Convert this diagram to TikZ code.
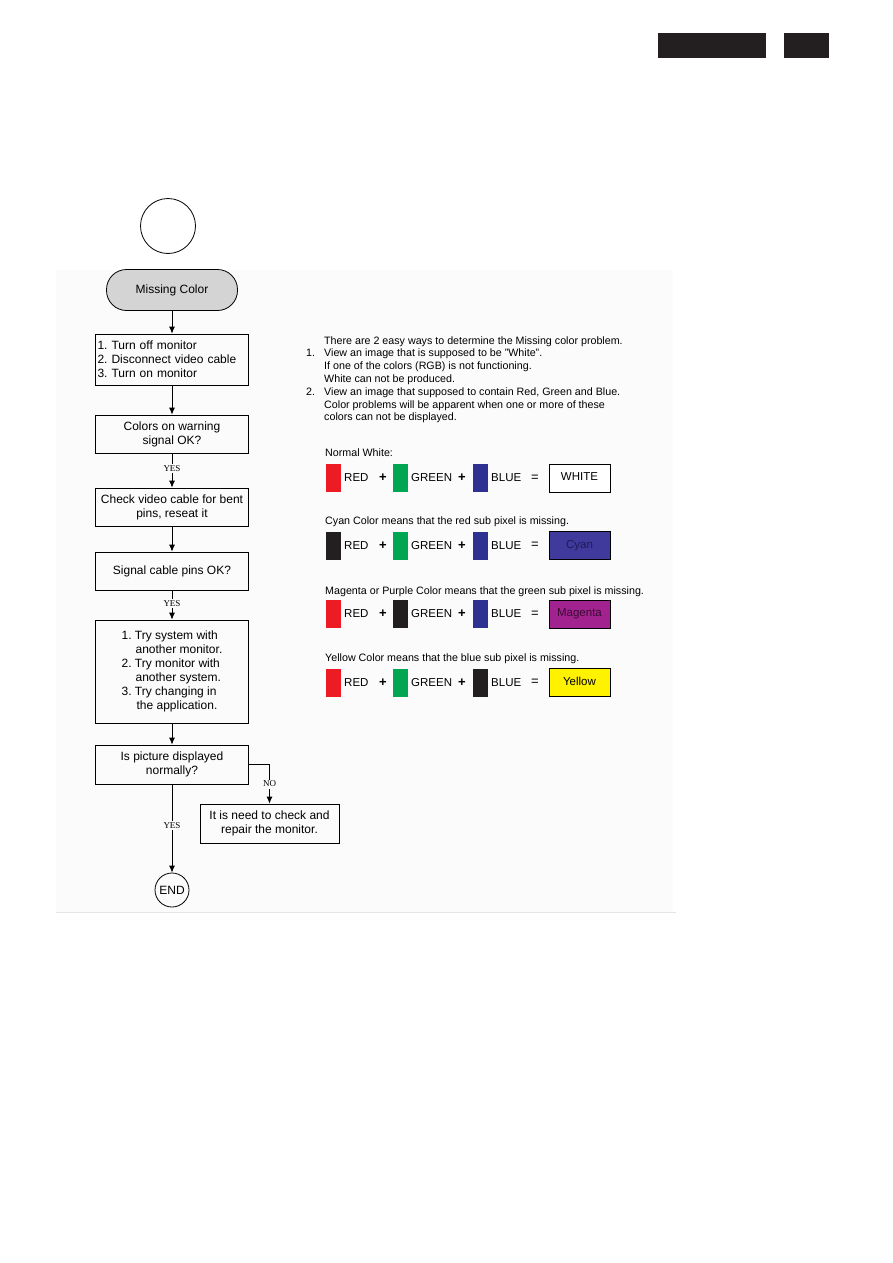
\documentclass[tikz,border=0pt]{standalone}
\usepackage{fontspec}
\setmainfont{Liberation Sans}
\newfontfamily\tmsfont{Liberation Serif}
\usetikzlibrary{arrows.meta}
\definecolor{bgc}{HTML}{FBFBFB}
\definecolor{hdr}{HTML}{231F20}
\definecolor{mcgray}{HTML}{D4D4D4}
\definecolor{cred}{HTML}{ED1C24}
\definecolor{cgreen}{HTML}{00A651}
\definecolor{cblue}{HTML}{2E3192}
\definecolor{cblack}{HTML}{231F20}
\definecolor{ccyan}{HTML}{3F3A9C}
\definecolor{ccyantxt}{HTML}{1E1C55}
\definecolor{cmag}{HTML}{A2238F}
\definecolor{cmagtxt}{HTML}{3A0A33}
\definecolor{cyel}{HTML}{FFF200}
\newcommand\colrow[8]{%
\node[sw,fill=#3] (#2a) at (333.5,#1) {};
\node[rowtxt] (#2b) at (344,#1) {RED};
\node[sym] (#2c) at (383,#1) {+};
\node[sw,fill=#4] (#2d) at (400.5,#1) {};
\node[rowtxt] (#2e) at (411,#1) {GREEN};
\node[sym] (#2f) at (462,#1) {+};
\node[sw,fill=#5] (#2g) at (480.5,#1) {};
\node[rowtxt] (#2h) at (491,#1) {BLUE};
\node[eqsym] (#2i) at (535,#1) {=};
\node[res,fill=#6,text=#7] (#2j) at (579.5,#1) {#8\vphantom{Ag}};
}
\begin{document}
\frenchspacing
\begin{tikzpicture}[x=1pt,y=-1pt,
  box/.style={draw, line width=0.8pt, minimum width=153pt, align=center, inner sep=2pt, font=\fontsize{12}{14}\selectfont},
  arr/.style={-{Latex[length=7pt,width=6pt]}, line width=0.8pt},
  lbl/.style={font=\tmsfont\fontsize{9}{10}\selectfont, fill=bgc, inner sep=1.5pt},
  para/.style={anchor=base west, inner sep=0, font=\fontsize{10.7}{12}\selectfont},
  sw/.style={minimum width=15pt, minimum height=28pt, inner sep=0},
  res/.style={draw, line width=0.8pt, minimum width=61pt, minimum height=28pt, inner sep=0, font=\fontsize{11.5}{13}\selectfont},
  rowtxt/.style={anchor=west, inner sep=0, font=\fontsize{11.5}{13}\selectfont},
  sym/.style={inner sep=0, font=\bfseries\fontsize{13}{14}\selectfont},
  eqsym/.style={inner sep=0, font=\fontsize{13}{14}\selectfont}]
\useasboundingbox (0,0) rectangle (893,1263);
% background panel
\fill[bgc] (56,270) rectangle (673,912);
\draw[black!10, line width=0.8pt] (56,912) -- (676,912);
% header
\node[fill=hdr, minimum width=108pt, minimum height=25pt, inner sep=0] (h1) at (712,45.5) {};
\node[fill=hdr, minimum width=45pt, minimum height=25pt, inner sep=0] (h2) at (806.5,45.5) {};
% flowchart
\node[draw, circle, line width=0.8pt, minimum size=55pt, inner sep=0] (start) at (168,226) {};
\node[draw, line width=0.8pt, fill=mcgray, rounded corners=20pt, minimum width=131pt, minimum height=41pt, font=\fontsize{12}{14}\selectfont] (mc) at (172,290) {Missing Color};
\node[box, text width=149pt, align=left, minimum height=51pt] (b1) at (172,359.5) {1. Turn off monitor\\2. Disconnect video cable\\3. Turn on monitor};
\node[box, minimum height=38pt] (b2) at (172,434) {Colors on warning\\signal OK?};
\node[box, minimum height=38pt] (b3) at (172,507) {Check video cable for bent\\pins, reseat it};
\node[box, minimum height=38pt] (b4) at (172,571) {Signal cable pins OK?};
\node[box, align=left, minimum height=103pt] (b5) at (172,671.5) {1. Try system with\\\hspace*{14pt}another monitor.\\2. Try monitor with\\\hspace*{14pt}another system.\\3. Try changing in\\\hspace*{15pt}the application.};
\node[box, minimum height=39pt] (b6) at (172,764.5) {Is picture displayed\\normally?};
\node[box, minimum width=139pt, minimum height=39pt] (b7) at (269.5,823.5) {It is need to check and\\repair the monitor.};
\node[draw, circle, line width=0.8pt, minimum size=34pt, inner sep=0, font=\fontsize{12}{14}\selectfont] (end) at (172,890) {END};
\draw[arr] (mc) -- (b1);
\draw[arr] (b1) -- (b2);
\draw[arr] (b2) -- node[lbl, pos=0.45] (y1) {YES} (b3);
\draw[arr] (b3) -- (b4);
\draw[arr] (b4) -- node[lbl, pos=0.45] (y2) {YES} (b5);
\draw[arr] (b5) -- (b6);
\draw[arr] (b6.east) -| node[lbl, pos=0.75] (n1) {NO} (b7.north);
\draw[arr] (b6) -- node[lbl, pos=0.47] (y3) {YES} (end);
% explanation text
\node[para] (t0) at (324,344) {There are 2 easy ways to determine the Missing color problem.};
\node[para] (k1) at (306,356.8) {1.};
\node[para] (t1) at (324,356.8) {View an image that is supposed to be "White".};
\node[para] (t2) at (324,369.6) {If one of the colors (RGB) is not functioning.};
\node[para] (t3) at (324,382.4) {White can not be produced.};
\node[para] (k2) at (306,395.2) {2.};
\node[para] (t4) at (324,395.2) {View an image that supposed to contain Red, Green and Blue.};
\node[para] (t5) at (324,408) {Color problems will be apparent when one or more of these};
\node[para] (t6) at (324,420.8) {colors can not be displayed.};
\node[para] (c1) at (325,456) {Normal White:};
\node[para] (c2) at (325,524) {Cyan Color means that the red sub pixel is missing.};
\node[para] (c3) at (325,594) {Magenta or Purple Color means that the green sub pixel is missing.};
\node[para] (c4) at (325,661) {Yellow Color means that the blue sub pixel is missing.};
\colrow{478}{ra}{cred}{cgreen}{cblue}{white}{black}{WHITE}
\colrow{545.5}{rb}{cblack}{cgreen}{cblue}{ccyan}{ccyantxt}{Cyan}
\colrow{614}{rc}{cred}{cblack}{cblue}{cmag}{cmagtxt}{Magenta}
\colrow{682.5}{rd}{cred}{cgreen}{cblack}{cyel}{black}{Yellow}
\end{tikzpicture}
\end{document}
